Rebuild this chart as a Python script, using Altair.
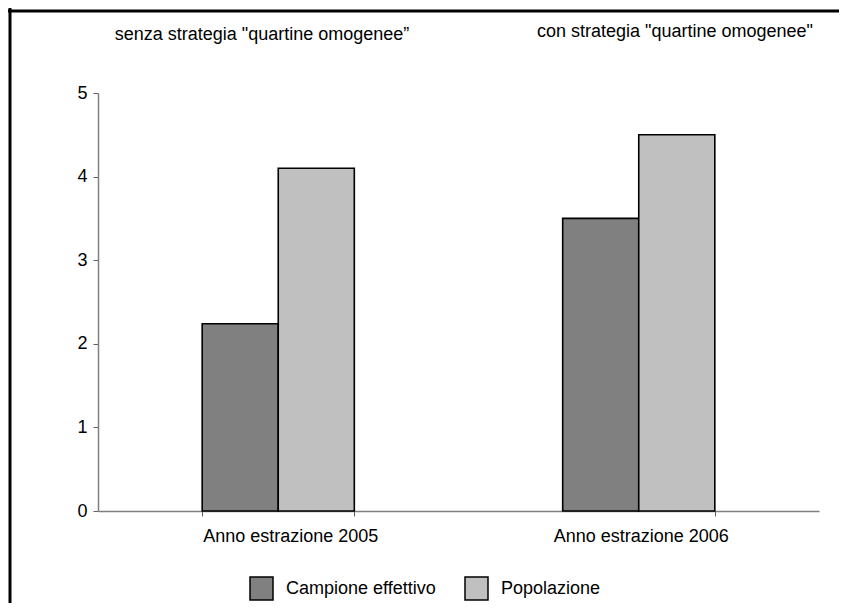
import altair as alt
import pandas as pd

# Data
anni = ["Anno estrazione 2005", "Anno estrazione 2006"]
serie = ["Campione effettivo", "Popolazione"]
campione = [2.24, 3.5]
popolazione = [4.1, 4.5]
titoli = ['senza strategia "quartine omogenee\u201d', 'con strategia "quartine omogenee"']
colori = ["#808080", "#C0C0C0"]

rows = []
for i, a in enumerate(anni):
    rows.append({"Anno": a, "Serie": serie[0], "Valore": campione[i]})
    rows.append({"Anno": a, "Serie": serie[1], "Valore": popolazione[i]})
df = pd.DataFrame(rows)

FONT = "Liberation Sans"
FS = 18

bars = alt.Chart(df).mark_bar(stroke="black", strokeWidth=1.6).encode(
    x=alt.X("Anno:N", sort=anni, title=None,
            scale=alt.Scale(paddingInner=0.578, paddingOuter=0.289),
            axis=alt.Axis(labelAngle=0, tickBand="extent", domainColor="#808080",
                          domainWidth=1.5, tickColor="#606060", tickSize=5,
                          labelFontSize=FS, labelFont=FONT, labelColor="black",
                          labelPadding=11,
                          labelOffset={"condition": {"test": "datum.value == 'Anno estrazione 2005'",
                                                     "value": 12}, "value": 2})),
    xOffset=alt.XOffset("Serie:N", sort=serie,
                        scale=alt.Scale(paddingInner=0, paddingOuter=0)),
    y=alt.Y("Valore:Q", title=None, scale=alt.Scale(domain=[0, 5], nice=False),
            axis=alt.Axis(values=[0, 1, 2, 3, 4, 5], grid=False, domainColor="#808080",
                          domainWidth=1.5, tickColor="#606060", tickSize=5,
                          labelFontSize=FS, labelFont=FONT, labelColor="black",
                          labelPadding=6, format="d")),
    color=alt.Color("Serie:N", sort=serie, title=None,
                    scale=alt.Scale(domain=serie, range=colori),
                    legend=alt.Legend(orient="none", legendX=151, legendY=483,
                                      direction="horizontal", symbolType="square",
                                      symbolSize=529, symbolStrokeColor="black",
                                      symbolStrokeWidth=1.5, symbolOpacity=1,
                                      labelFontSize=FS, labelFont=FONT,
                                      labelColor="black", labelOffset=12,
                                      columnPadding=26, padding=0)),
)

t1 = alt.Chart(pd.DataFrame({"t": [titoli[0]]})).mark_text(
    font=FONT, fontSize=FS, color="black", align="center", baseline="alphabetic"
).encode(text="t:N", x=alt.value(164), y=alt.value(-53))

t2 = alt.Chart(pd.DataFrame({"t": [titoli[1]]})).mark_text(
    font=FONT, fontSize=FS, color="black", align="center", baseline="alphabetic"
).encode(text="t:N", x=alt.value(577), y=alt.value(-56))

dummy = pd.DataFrame({"a": [0]})
top_line = alt.Chart(dummy).mark_rule(color="black", strokeWidth=3).encode(
    x=alt.value(-100), x2=alt.value(900), y=alt.value(-82))
left_line = alt.Chart(dummy).mark_rule(color="black", strokeWidth=3).encode(
    x=alt.value(-88), y=alt.value(-90), y2=alt.value(600))

chart = alt.layer(bars, t1, t2, top_line, left_line).properties(
    width=721, height=418,
    padding={"left": 90, "top": 85, "right": 20, "bottom": 92},
    autosize=alt.AutoSizeParams(type="none"),
    background="white",
).configure_view(stroke="transparent", strokeWidth=0)

chart.save("out.html", embed_options={"renderer": "svg", "actions": False})
